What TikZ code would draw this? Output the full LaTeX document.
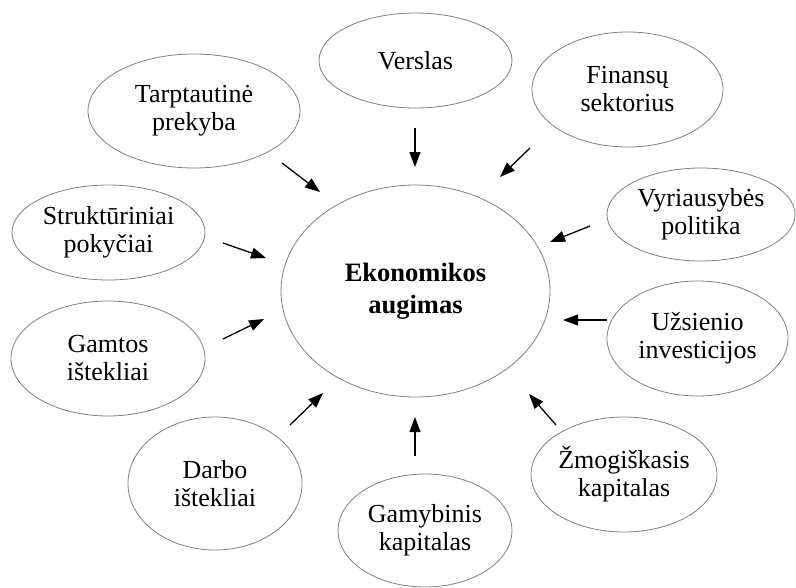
\documentclass[tikz,border=0pt]{standalone}
\usepackage{fontspec}
\setmainfont{Liberation Serif}
\usetikzlibrary{shapes.geometric,arrows.meta}

\begin{document}
\begin{tikzpicture}[x=1pt,y=-1pt,
  bubble/.style={ellipse,draw=black!50,line width=0.8pt,inner sep=0pt,
    align=center,font=\fontsize{26}{28}\selectfont},
  flow/.style={line width=1.3pt,-{Triangle[length=15pt,width=11pt]}}]
\useasboundingbox (0,0) rectangle (796,587);

% central factor
\node[bubble,minimum width=269pt,minimum height=212pt,
  font=\fontsize{26.5}{32}\selectfont\bfseries] (eko) at (415.5,291) {Ekonomikos\\augimas};

% surrounding factors
\node[bubble,minimum width=193pt,minimum height=95pt]  (verslas) at (415.5,60.5) {Verslas};
\node[bubble,minimum width=212pt,minimum height=114pt] (tarpt)   at (194,111)    {Tarptautinė\\prekyba};
\node[bubble,minimum width=191pt,minimum height=115pt] (finans)  at (627.5,89.5) {Finansų\\sektorius};
\node[bubble,minimum width=193pt,minimum height=95pt]  (strukt)  at (108.5,232.5) {Struktūriniai\\pokyčiai};
\node[bubble,minimum width=188pt,minimum height=93pt]  (vyr)     at (701,214.5)  {Vyriausybės\\politika};
\node[bubble,minimum width=194pt,minimum height=115pt] (gamtos)  at (108,358.5)  {Gamtos\\ištekliai};
\node[bubble,minimum width=181pt,minimum height=115pt] (uzs)     at (697.5,338.5) {Užsienio\\investicijos};
\node[bubble,minimum width=174pt,minimum height=133pt] (darbo)   at (215,483.5)  {Darbo\\ištekliai};
\node[bubble,minimum width=174pt,minimum height=113pt] (gamyb)   at (425,530.5)  {Gamybinis\\kapitalas};
\node[bubble,minimum width=186pt,minimum height=115pt] (zmog)    at (624,474.5)  {Žmogiškasis\\kapitalas};

% arrow end points
\coordinate (tarptA) at (282,163); \coordinate (tarptB) at (320,192);
\coordinate (verslA) at (415,128); \coordinate (verslB) at (415,167);
\coordinate (finA)   at (530,148); \coordinate (finB)   at (500,177);
\coordinate (vyrA)   at (590,226); \coordinate (vyrB)   at (550,242);
\coordinate (strA)   at (223,243); \coordinate (strB)   at (266,258);
\coordinate (uzsA)   at (607,320); \coordinate (uzsB)   at (563,320);
\coordinate (gamA)   at (223,339); \coordinate (gamB)   at (264,319);
\coordinate (darA)   at (290,425); \coordinate (darB)   at (323,393);
\coordinate (gybA)   at (415,456); \coordinate (gybB)   at (415,417);
\coordinate (zmA)    at (556,425); \coordinate (zmB)    at (529,394);

\draw[flow] (tarptA) -- (tarptB);
\draw[flow] (verslA) -- (verslB);
\draw[flow] (finA) -- (finB);
\draw[flow] (vyrA) -- (vyrB);
\draw[flow] (strA) -- (strB);
\draw[flow] (uzsA) -- (uzsB);
\draw[flow] (gamA) -- (gamB);
\draw[flow] (darA) -- (darB);
\draw[flow] (gybA) -- (gybB);
\draw[flow] (zmA) -- (zmB);
\end{tikzpicture}
\end{document}
